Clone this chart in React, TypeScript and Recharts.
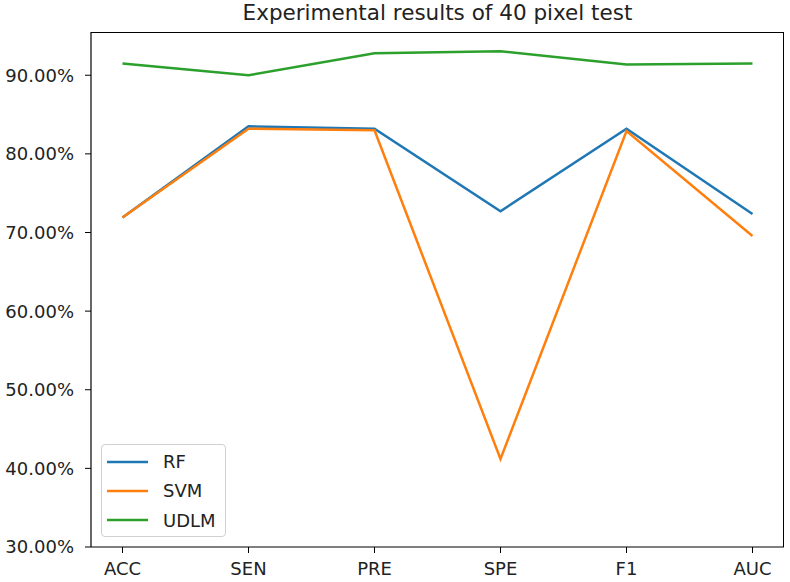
import { Line, LineChart, XAxis, YAxis } from "recharts";

const categories = ["ACC", "SEN", "PRE", "SPE", "F1", "AUC"];
const rfValues = [71.9, 83.5, 83.2, 72.7, 83.2, 72.35];
const svmValues = [71.9, 83.2, 83.0, 41.2, 82.9, 69.55];
const udlmValues = [91.5, 90.0, 92.8, 93.06, 91.37, 91.5];
const yTicks = [30, 40, 50, 60, 70, 80, 90];

const series = [
  { key: "RF", label: "RF", color: "#1f77b4" },
  { key: "SVM", label: "SVM", color: "#ff7f0e" },
  { key: "UDLM", label: "UDLM", color: "#2ca02c" },
];

const data = categories.map((c, i) => ({
  idx: i,
  cat: c,
  RF: rfValues[i],
  SVM: svmValues[i],
  UDLM: udlmValues[i],
}));

const FONT = "'DejaVu Sans', sans-serif";
const tickStyle = { fontSize: 18, fill: "#222", fontFamily: FONT };

export default function App() {
  return (
    <div style={{ position: "absolute", left: 0, top: 0, width: 790, height: 582, background: "#fff", fontFamily: FONT }}>
      <div
        style={{
          position: "absolute",
          left: 91,
          width: 693,
          top: 2,
          textAlign: "center",
          fontSize: 21.5,
          lineHeight: "22px",
          color: "#222",
        }}
      >
        Experimental results of 40 pixel test
      </div>
      <LineChart width={790} height={582} data={data} margin={{ top: 32, right: 6, bottom: 0, left: 0 }}>
        <XAxis
          dataKey="idx"
          type="number"
          domain={[-0.25, 5.25]}
          ticks={[0, 1, 2, 3, 4, 5]}
          tickFormatter={(i) => categories[Number(i)] ?? ""}
          height={35}
          tickSize={6}
          tickMargin={9}
          tick={tickStyle}
          stroke="#000"
          axisLine={{ stroke: "#000", strokeWidth: 1.2 }}
          tickLine={{ stroke: "#000" }}
        />
        <YAxis
          domain={[30, 95.5]}
          ticks={yTicks}
          tickFormatter={(v) => `${Number(v).toFixed(2)}%`}
          width={91}
          tickSize={6}
          tickMargin={11}
          tick={tickStyle}
          allowDataOverflow
          axisLine={{ stroke: "#000", strokeWidth: 1.2 }}
          tickLine={{ stroke: "#000" }}
        />
        {series.map((s) => (
          <Line
            key={s.key}
            dataKey={s.key}
            name={s.label}
            stroke={s.color}
            strokeWidth={2.5}
            dot={false}
            activeDot={false}
            type="linear"
            isAnimationActive={false}
          />
        ))}
      </LineChart>
      {/* frame: top and right spines */}
      <div
        style={{
          position: "absolute",
          left: 91,
          top: 32,
          width: 693,
          height: 515,
          borderTop: "1.2px solid #000",
          borderRight: "1.2px solid #000",
          boxSizing: "border-box",
          pointerEvents: "none",
        }}
      />
      <div
        style={{
          position: "absolute",
          left: 101,
          top: 444,
          width: 125,
          height: 93,
          border: "1px solid #d0d0d0",
          borderRadius: 4,
          background: "rgba(255,255,255,0.8)",
          boxSizing: "border-box",
          paddingTop: 2,
        }}
      >
        {series.map((s) => (
          <div key={s.key} style={{ display: "flex", alignItems: "center", height: 29.3, fontSize: 18, color: "#222" }}>
            <svg width={61} height={6} style={{ flexShrink: 0 }}>
              <line x1={5} x2={46} y1={3} y2={3} stroke={s.color} strokeWidth={2.5} />
            </svg>
            {s.label}
          </div>
        ))}
      </div>
    </div>
  );
}
